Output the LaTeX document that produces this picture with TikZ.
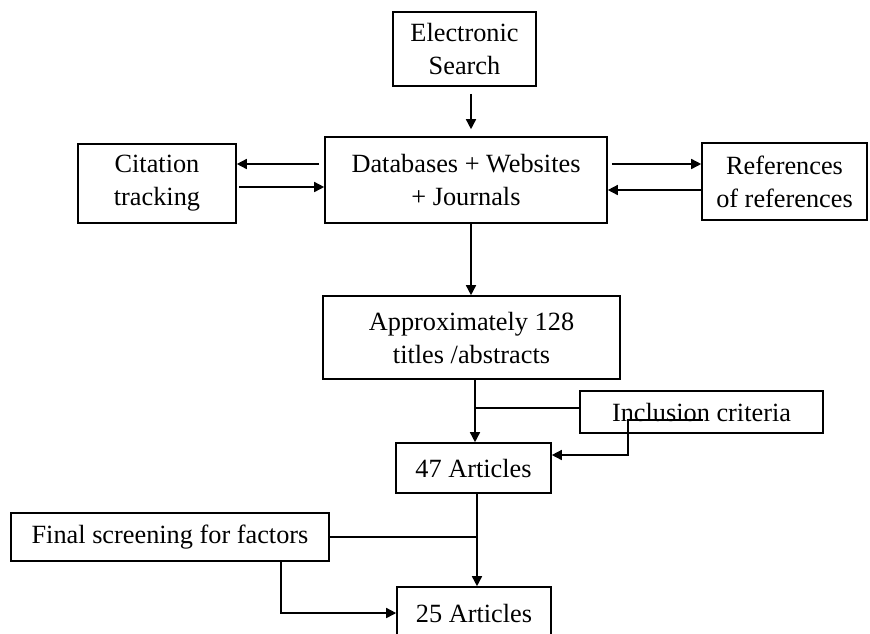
\documentclass[tikz,border=0pt]{standalone}
\usepackage{fontspec}
\setmainfont{Liberation Serif}
\usetikzlibrary{arrows.meta,calc}
\begin{document}
\begin{tikzpicture}[x=0.5pt,y=-0.5pt,
  box/.style={draw,line width=0.8pt,inner sep=0pt,align=center,
    font=\fontsize{13.15pt}{16.5pt}\selectfont},
  arr/.style={line width=0.75pt,-{Triangle[length=5pt,width=5pt]}},
  ln/.style={line width=0.75pt}]
\useasboundingbox (0,0) rectangle (870,633);
\clip (0,0) rectangle (870,633);
\node[box,minimum width=71.5pt,minimum height=37pt] (es) at (464.5,49) {Electronic\\Search};
\node[box,minimum width=141pt,minimum height=43pt] (db) at (466,180) {Databases + Websites\\+ Journals};
\node[box,minimum width=79pt,minimum height=39.5pt] (cit) at (157,183.5) {Citation\\tracking};
\node[box,minimum width=82.5pt,minimum height=38.5pt] (ref) at (784.5,181.5) {References\\of references};
\node[box,minimum width=148.5pt,minimum height=41.5pt] (apx) at (471.5,337.5) {Approximately 128\\titles /abstracts};
\node[box,minimum width=121.5pt,minimum height=21pt] (inc) at (701.5,412) {Inclusion criteria};
\node[box,minimum width=77.5pt,minimum height=25pt] (a47) at (473.5,468) {47 Articles};
\node[box,minimum width=159pt,minimum height=24pt] (fin) at (170,537) {Final screening for factors};
\node[box,minimum width=77pt,minimum height=26pt] (a25) at (474,613) {25 Articles};
\coordinate (c471) at (471,0);
\coordinate (c475) at (475,0);
\coordinate (c477) at (477,0);
% top
\draw[arr,shorten <=3.5pt,shorten >=3.5pt] (es.south -| c471) -- (db.north -| c471);
\draw[arr,shorten <=2.5pt] ([yshift=8pt]db.west) -- ([yshift=8pt]db.west -| cit.east);
\draw[arr,shorten <=1pt] ([yshift=-3.5pt]db.west -| cit.east) -- ([yshift=-3.5pt]db.west);
\draw[arr,shorten <=2pt] ([yshift=8pt]db.east) -- ([yshift=8pt]db.east -| ref.west);
\draw[arr] ([yshift=-5pt]db.east -| ref.west) -- ([yshift=-5pt]db.east);
\draw[arr] (db.south -| c471) -- (apx.north -| c471);
% middle
\draw[arr] (apx.south -| c475) -- (a47.north -| c475);
\draw[ln] ([yshift=2pt]inc.west) -- ([yshift=2pt]inc.west -| c475);
\draw[arr] ([xshift=0.75pt,yshift=-4pt]inc.center) -- ++(-75,0) |- ([yshift=6.5pt]a47.east);
% bottom
\draw[arr] (a47.south -| c477) -- (a25.north -| c477);
\draw[ln] (fin.east) -- (fin.east -| c477);
\draw[arr] ([xshift=55.5pt]fin.south) |- (a25.west);
\end{tikzpicture}
\end{document}
